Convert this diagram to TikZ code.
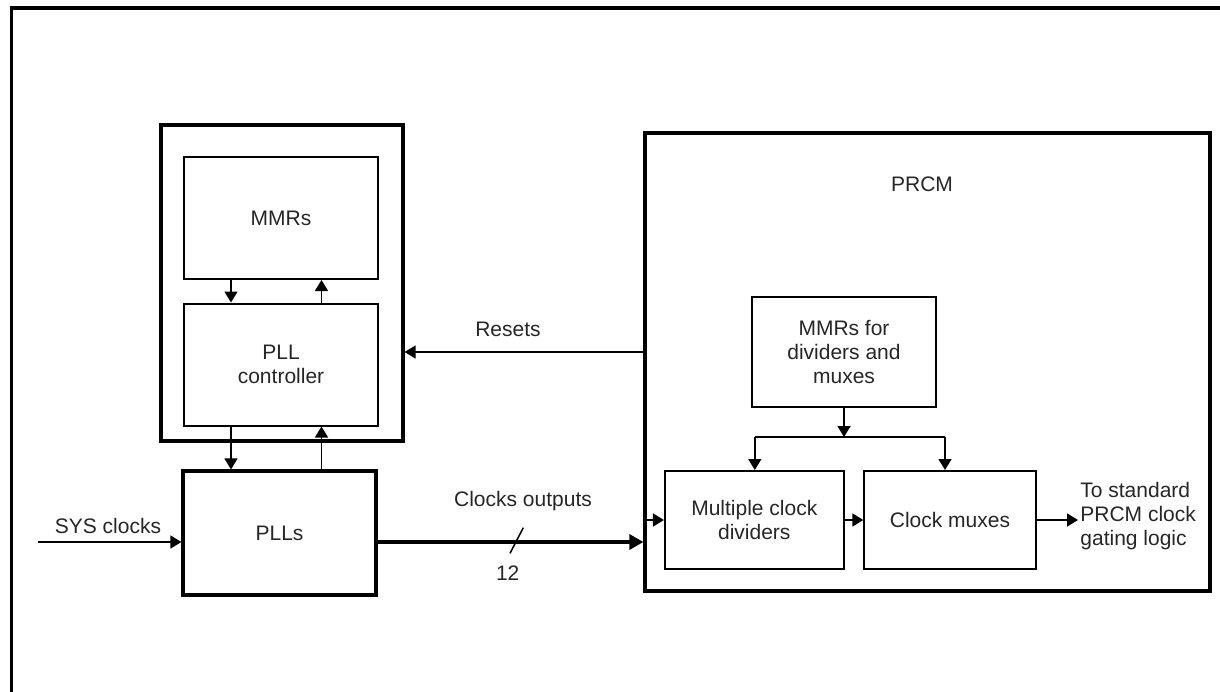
\documentclass[tikz,border=0pt]{standalone}
\usepackage{fontspec}
\setmainfont{Liberation Sans}
\usetikzlibrary{arrows.meta}
\begin{document}
\begin{tikzpicture}[x=0.5pt,y=-0.5pt,
  txt/.style={font=\fontsize{10.5}{12}\selectfont, text=black!85, align=center, inner sep=0pt},
  thinbox/.style={draw, line width=1pt, inner sep=0pt, txt},
  thickbox/.style={draw, line width=1.6pt, inner sep=0pt, txt},
  arr/.style={line width=0.75pt, -{Triangle[length=5.5pt,width=6.5pt]}},
  bigarr/.style={line width=1.65pt, -{Triangle[length=7pt,width=7.5pt]}},
  wire/.style={line width=0.75pt}
]
\useasboundingbox (0,0) rectangle (1220,691);
% outer frame (only top and left visible)
\draw[line width=1.9pt, line join=miter] (11.5,700) -- (11.5,8) -- (1230,8);

% left block
\node[thickbox, minimum width=121pt, minimum height=158pt] (ctrl) at (282,283) {};
\node[thinbox, minimum width=97pt, minimum height=61pt] (mmr) at (281,218) {MMRs};
\node[thinbox, minimum width=97pt, minimum height=61pt] (pllc) at (281,364.5) {PLL\\controller};
\node[thickbox, minimum width=96.5pt, minimum height=62pt] (plls) at (279.5,533) {PLLs};

% PRCM
\node[thickbox, minimum width=282.5pt, minimum height=229pt] (prcm) at (927.5,362) {};
\node[txt] (prcmlbl) at (922,184) {PRCM};
\node[thinbox, minimum width=92pt, minimum height=55pt] (mmrdiv) at (844,352) {MMRs for\\dividers and\\muxes};
\node[thinbox, minimum width=89.35pt, minimum height=49pt] (div) at (754.3,520) {Multiple clock\\dividers};
\node[thinbox, minimum width=85.65pt, minimum height=49pt] (mux) at (950,520) {Clock muxes};

% coordinates
\coordinate (xa) at (231,0);
\coordinate (xb) at (321.5,0);
\coordinate (sysin) at (38,542);
\coordinate (rs) at (0,352);
\coordinate (br) at (844,437);
\coordinate (bl) at (754.8,437);
\coordinate (brr) at (945,437);
\coordinate (out) at (1078,520);

% MMRs <-> PLL controller
\draw[arr] (mmr.south -| xa) -- (pllc.north -| xa);
\draw[arr] (pllc.north -| xb) -- (mmr.south -| xb);
% PLL controller <-> PLLs
\draw[arr] (pllc.south -| xa) -- (plls.north -| xa);
\draw[arr] (plls.north -| xb) -- (pllc.south -| xb);

% SYS clocks
\draw[arr] (sysin) -- (sysin -| plls.west);
\node[txt] (syslbl) at (108,526) {SYS clocks};

% Clock outputs
\draw[bigarr] (sysin -| plls.east) -- (sysin -| prcm.west);
\node[txt] (clklbl) at (523,501) {Clocks outputs};
\draw[wire] (510,553.3) -- (523.3,527.7);
\node[txt] (twelve) at (507.7,573) {12};

% Resets
\draw[arr] (rs -| prcm.west) -- (rs -| ctrl.east);
\node[txt] (rslbl) at (508,329) {Resets};

% inside PRCM
\draw[arr] (mmrdiv.south) -- (br);
\draw[wire] (bl) -- (brr);
\draw[arr] (bl) -- (bl |- div.north);
\draw[arr] (brr) -- (brr |- mux.north);
\draw[arr] (prcm.west |- div.west) -- (div.west);
\draw[arr] (div.east) -- (mux.west);
\draw[arr] (mux.east) -- (out);
\node[txt, anchor=west, align=left] (tolbl) at (1080,516.5) {To standard\\PRCM clock\\gating logic};
\end{tikzpicture}
\end{document}
